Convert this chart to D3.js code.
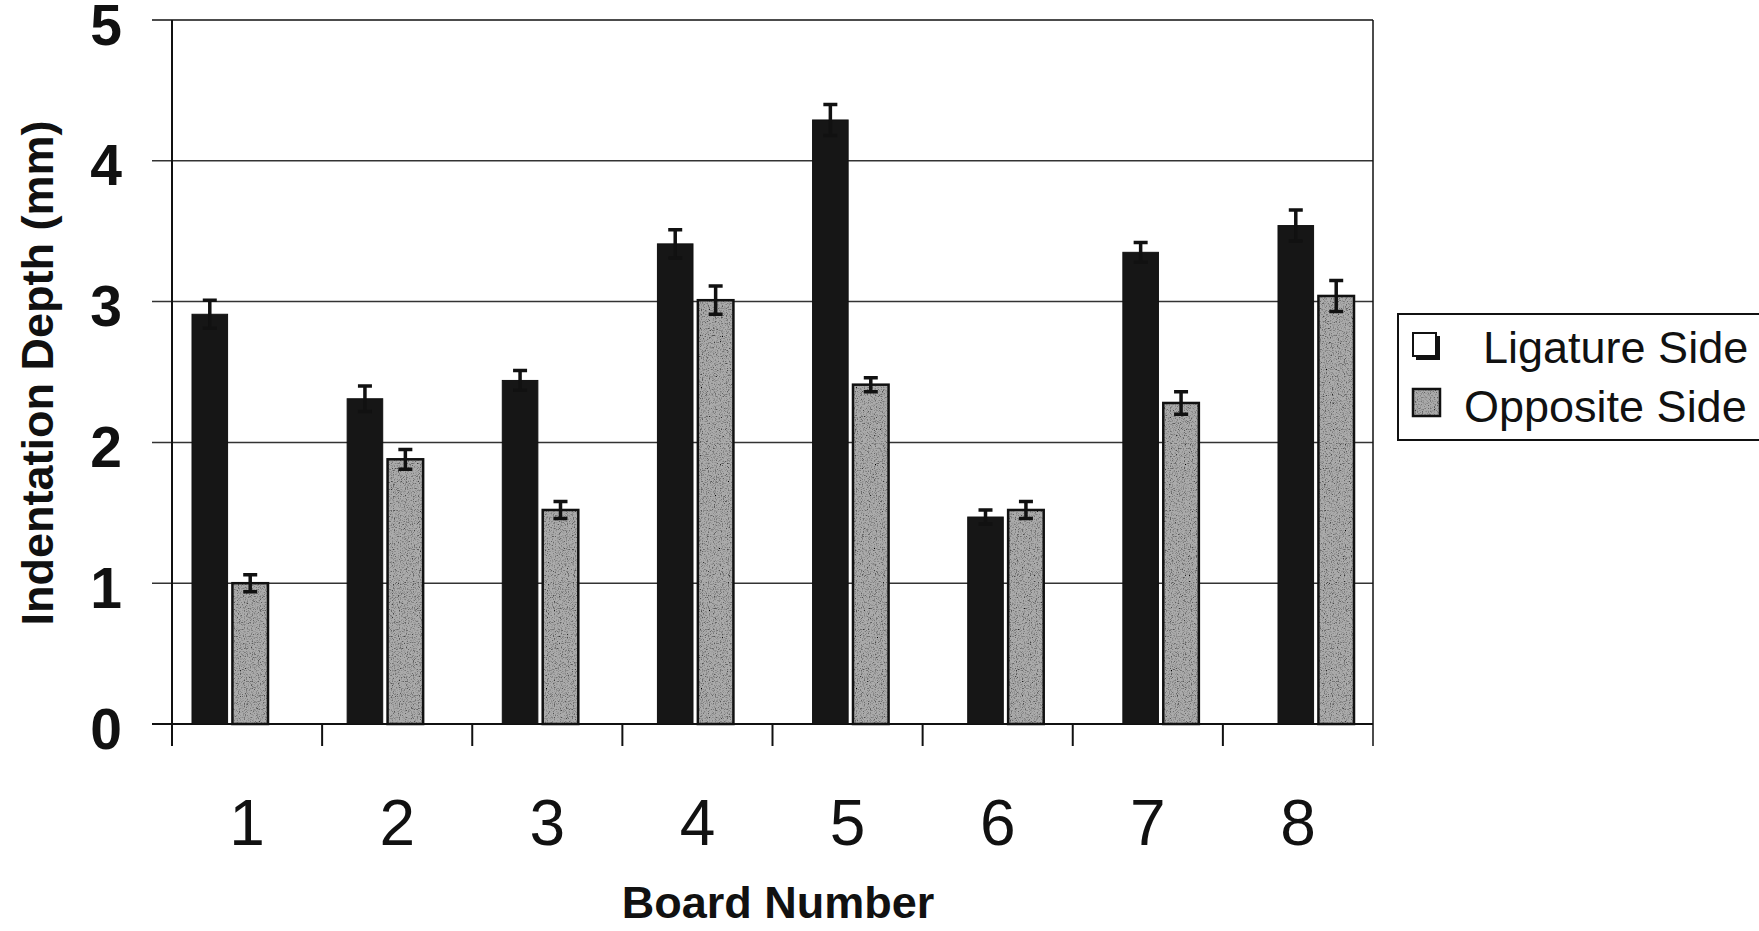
<!DOCTYPE html>
<html>
<head>
<meta charset="utf-8">
<title>Indentation depth</title>
<script src="https://cdn.jsdelivr.net/npm/d3@7"></script>
<style>
  body { margin: 0; background: #fff; }
  text { font-family: "Liberation Sans", Arial, sans-serif; fill: #111; }
</style>
</head>
<body>
<svg id="chart" width="1759" height="931"></svg>
<script>
var boards = ["1", "2", "3", "4", "5", "6", "7", "8"];
var ligature = [2.91, 2.31, 2.44, 3.41, 4.29, 1.47, 3.35, 3.54];
var ligatureErr = [0.10, 0.09, 0.07, 0.10, 0.11, 0.05, 0.07, 0.11];
var opposite = [1.00, 1.88, 1.52, 3.01, 2.41, 1.52, 2.28, 3.04];
var oppositeErr = [0.06, 0.07, 0.06, 0.10, 0.05, 0.06, 0.08, 0.11];
var yTicks = [0, 1, 2, 3, 4, 5];
var seriesNames = ["Ligature Side", "Opposite Side"];

var plotLeft = 172, plotRight = 1373, plotTop = 20, plotBottom = 724;
var grayFill = "#ababab";

var svg = d3.select("#chart");

// speckled texture for the grey bars, like the printed original
var filter = svg.append("defs").append("filter")
  .attr("id", "speckle")
  .attr("x", 0).attr("y", 0).attr("width", "100%").attr("height", "100%");
filter.append("feTurbulence")
  .attr("type", "fractalNoise").attr("baseFrequency", 0.85)
  .attr("numOctaves", 2).attr("seed", 4).attr("result", "noise");
filter.append("feColorMatrix")
  .attr("in", "noise").attr("type", "matrix")
  .attr("values", "0 0 0 0 0  0 0 0 0 0  0 0 0 0 0  -2.6 0 0 0 1.35")
  .attr("result", "dots");
filter.append("feComposite")
  .attr("in", "dots").attr("in2", "SourceGraphic").attr("operator", "in")
  .attr("result", "dotsIn");
var merge = filter.append("feMerge");
merge.append("feMergeNode").attr("in", "SourceGraphic");
merge.append("feMergeNode").attr("in", "dotsIn");

var x = d3.scaleBand().domain(boards).range([plotLeft, plotRight]);
// bar groups sit slightly wider apart than the tick marks in the original
var xGroup = d3.scalePoint().domain(boards).range([230, 1316]);
var xSub = d3.scaleBand().domain(["lig", "opp"]).range([-38, 38]).paddingInner(0.12);
var y = d3.scaleLinear().domain([0, 5]).range([plotBottom, plotTop]);

// gridlines (with outward ticks on the left)
svg.append("g")
  .selectAll("line")
  .data(yTicks)
  .enter().append("line")
  .attr("x1", plotLeft - 20).attr("x2", plotRight)
  .attr("y1", function(d) { return y(d); })
  .attr("y2", function(d) { return y(d); })
  .attr("stroke", function(d) { return d === 0 || d === 5 ? "#111" : "#333"; })
  .attr("stroke-width", function(d) { return d === 0 ? 2 : 1.5; });

// left axis, right border
svg.append("line").attr("x1", plotLeft).attr("x2", plotLeft).attr("y1", plotTop).attr("y2", plotBottom + 22)
  .attr("stroke", "#111").attr("stroke-width", 2);
svg.append("line").attr("x1", plotRight).attr("x2", plotRight).attr("y1", plotTop).attr("y2", plotBottom + 22)
  .attr("stroke", "#111").attr("stroke-width", 1.5);

// x tick marks between categories
svg.append("g")
  .selectAll("line")
  .data(boards.slice(1))
  .enter().append("line")
  .attr("x1", function(d) { return x(d); })
  .attr("x2", function(d) { return x(d); })
  .attr("y1", plotBottom).attr("y2", plotBottom + 22)
  .attr("stroke", "#111").attr("stroke-width", 2);

// y tick labels
svg.append("g")
  .selectAll("text")
  .data(yTicks)
  .enter().append("text")
  .attr("x", 122)
  .attr("y", function(d) { return y(d); })
  .attr("dy", "0.43em")
  .attr("text-anchor", "end")
  .style("font-size", "57px")
  .style("font-weight", "bold")
  .text(function(d) { return d; });

// x tick labels
svg.append("g")
  .selectAll("text")
  .data(boards)
  .enter().append("text")
  .attr("x", function(d) { return x(d) + x.bandwidth() / 2; })
  .attr("y", 845)
  .attr("text-anchor", "middle")
  .style("font-size", "64px")
  .text(function(d) { return d; });

// axis titles
svg.append("text")
  .attr("transform", "translate(37,373) rotate(-90)")
  .attr("dy", "0.35em")
  .attr("text-anchor", "middle")
  .style("font-size", "45px")
  .style("font-weight", "bold")
  .text("Indentation Depth (mm)");

svg.append("text")
  .attr("x", 778).attr("y", 918)
  .attr("text-anchor", "middle")
  .style("font-size", "45px")
  .style("font-weight", "bold")
  .text("Board Number");

// bars
var rows = boards.map(function(b, i) {
  return [
    { board: b, key: "lig", value: ligature[i], err: ligatureErr[i] },
    { board: b, key: "opp", value: opposite[i], err: oppositeErr[i] }
  ];
});
var flat = [].concat.apply([], rows);

var bars = svg.append("g")
  .selectAll("g")
  .data(flat)
  .enter().append("g")
  .attr("transform", function(d) { return "translate(" + (xGroup(d.board) + xSub(d.key)) + ",0)"; });

bars.append("rect")
  .attr("x", 0)
  .attr("width", xSub.bandwidth())
  .attr("y", function(d) { return y(d.value); })
  .attr("height", function(d) { return y(0) - y(d.value); })
  .attr("fill", function(d) { return d.key === "lig" ? "#161616" : grayFill; })
  .attr("filter", function(d) { return d.key === "lig" ? null : "url(#speckle)"; });

bars.append("rect")
  .attr("x", 0)
  .attr("width", xSub.bandwidth())
  .attr("y", function(d) { return y(d.value); })
  .attr("height", function(d) { return y(0) - y(d.value); })
  .attr("fill", "none")
  .attr("stroke", "#111")
  .attr("stroke-width", function(d) { return d.key === "lig" ? 1 : 2.5; });

// error bars
var cap = 7;
bars.append("path")
  .attr("d", function(d) {
    var c = xSub.bandwidth() / 2,
        hi = y(d.value + d.err),
        lo = y(d.value - d.err);
    return "M" + c + "," + lo + "V" + hi +
      "M" + (c - cap) + "," + hi + "H" + (c + cap) +
      "M" + (c - cap) + "," + lo + "H" + (c + cap);
  })
  .attr("fill", "none")
  .attr("stroke", "#111")
  .attr("stroke-width", 3.5);

// legend
var legend = svg.append("g");
legend.append("rect")
  .attr("x", 1398).attr("y", 314)
  .attr("width", 370).attr("height", 126)
  .attr("fill", "#fff")
  .attr("stroke", "#111").attr("stroke-width", 2);

// hollow square with shadow for Ligature Side
legend.append("rect").attr("x", 1416).attr("y", 336).attr("width", 24).attr("height", 24).attr("fill", "#111");
legend.append("rect").attr("x", 1413).attr("y", 333).attr("width", 23).attr("height", 23)
  .attr("fill", "#fff").attr("stroke", "#111").attr("stroke-width", 2);
legend.append("text")
  .attr("x", 1483).attr("y", 363)
  .style("font-size", "45px")
  .text(seriesNames[0]);

legend.append("rect").attr("x", 1413).attr("y", 389).attr("width", 27).attr("height", 27)
  .attr("fill", grayFill).attr("filter", "url(#speckle)");
legend.append("rect").attr("x", 1413).attr("y", 389).attr("width", 27).attr("height", 27)
  .attr("fill", "none").attr("stroke", "#111").attr("stroke-width", 2.5);
legend.append("text")
  .attr("x", 1464).attr("y", 422)
  .style("font-size", "45px")
  .text(seriesNames[1]);
</script>
</body>
</html>
